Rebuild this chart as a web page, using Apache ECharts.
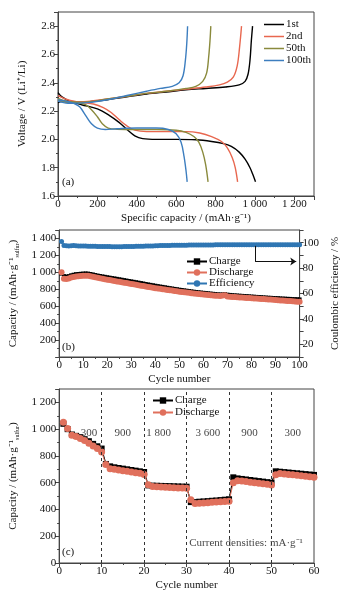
<!DOCTYPE html>
<html>
<head>
<meta charset="utf-8">
<script src="https://cdn.jsdelivr.net/npm/echarts@6/dist/echarts.min.js"></script>
<style>
  html, body { margin: 0; padding: 0; background: #fff; }
  #main { width: 349px; height: 592px; }
</style>
</head>
<body>
<div id="main"></div>
<script>
// (a) 充放电曲线 [容量 mAh/g, 电压 V]
var dis1st = [[0,2.33],[20,2.30],[60,2.27],[120,2.245],[200,2.215],[260,2.17],[310,2.12],[350,2.07],[390,2.025],[430,2.005],[500,2.0],[600,2.0],[700,1.997],[780,1.985],[840,1.97],[880,1.95],[920,1.91],[950,1.86],[975,1.80],[990,1.75],[1003,1.70]];
var chg1st = [[0,2.26],[30,2.27],[80,2.262],[150,2.265],[250,2.28],[350,2.30],[450,2.32],[550,2.335],[650,2.35],[750,2.36],[850,2.37],[920,2.385],[950,2.41],[965,2.46],[975,2.56],[982,2.7],[988,2.8]];
var dis2nd = [[0,2.31],[50,2.28],[120,2.26],[180,2.25],[230,2.225],[270,2.19],[310,2.14],[350,2.095],[390,2.065],[450,2.055],[550,2.055],[650,2.055],[720,2.045],[780,2.02],[830,1.985],[860,1.94],[885,1.87],[900,1.80],[912,1.70]];
var chg2nd = [[0,2.27],[50,2.265],[150,2.268],[250,2.285],[350,2.305],[450,2.325],[550,2.34],[650,2.355],[750,2.37],[820,2.385],[860,2.405],[890,2.44],[910,2.52],[922,2.65],[932,2.8]];
var dis50th = [[0,2.29],[40,2.27],[100,2.26],[140,2.245],[170,2.21],[200,2.16],[225,2.11],[255,2.08],[300,2.072],[400,2.07],[500,2.07],[600,2.065],[650,2.05],[690,2.02],[715,1.98],[735,1.91],[750,1.82],[762,1.70]];
var chg50th = [[0,2.28],[50,2.262],[150,2.265],[250,2.285],[350,2.305],[450,2.325],[550,2.34],[650,2.36],[700,2.375],[735,2.41],[755,2.47],[765,2.58],[772,2.7],[776,2.8]];
var dis100th = [[0,2.28],[40,2.27],[80,2.255],[110,2.23],[140,2.17],[170,2.11],[200,2.08],[240,2.07],[300,2.075],[400,2.08],[500,2.08],[560,2.07],[600,2.04],[625,1.98],[640,1.88],[650,1.78],[656,1.70]];
var chg100th = [[0,2.27],[50,2.255],[150,2.26],[250,2.28],[350,2.31],[450,2.34],[520,2.36],[580,2.375],[615,2.40],[635,2.45],[647,2.56],[654,2.68],[658,2.8]];

// (b) 循环性能 1-100
var cycChg = [985,955,950,955,965,972,978,980,983,985,987,985,980,975,968,962,957,952,947,942,
  937,932,928,923,918,913,908,903,898,893,888,883,878,873,868,862,857,852,847,842,
  837,832,828,823,818,813,809,804,800,795,791,787,783,779,775,771,768,764,761,758,
  755,752,749,746,743,740,738,740,742,736,733,730,728,726,724,722,720,718,716,714,
  712,710,708,706,704,702,700,699,697,695,694,692,690,689,687,686,684,683,682,680];
var cycDis = [1000,925,920,928,938,945,950,954,957,960,961,959,955,949,943,937,931,925,919,913,
  908,903,898,893,888,883,878,873,868,863,858,853,848,843,838,833,828,823,818,813,
  809,805,800,796,792,788,784,780,776,772,768,765,761,758,754,751,748,745,742,739,
  736,733,730,727,724,722,720,726,728,716,713,710,708,706,704,702,700,698,696,694,
  692,690,688,686,684,682,680,678,676,672,670,668,666,664,662,660,658,656,654,652];
var cycEff = [101,97.8,97.6,97.5,97.6,97.7,97.6,97.5,97.5,97.4,97.4,97.3,97.3,97.2,97.2,97.1,97.1,97.0,97.0,97.0,
  97.0,96.9,96.9,96.9,96.9,96.9,97.0,97.0,97.0,97.1,97.1,97.2,97.2,97.3,97.3,97.4,97.4,97.5,97.5,97.6,
  97.6,97.7,97.7,97.8,97.8,97.8,97.9,97.9,97.9,98.0,98.0,98.0,98.0,98.1,98.1,98.1,98.1,98.1,98.2,98.2,
  98.2,98.2,98.2,98.2,98.3,98.3,98.3,98.3,98.3,98.3,98.3,98.3,98.3,98.3,98.3,98.3,98.3,98.3,98.3,98.3,
  98.3,98.3,98.3,98.3,98.3,98.3,98.3,98.3,98.3,98.3,98.3,98.3,98.3,98.3,98.3,98.3,98.3,98.3,98.3,98.3];

// (c) 倍率性能 1-60
var rateChg = [1040,1000,960,950,940,925,910,890,872,855,
  740,722,715,710,705,700,695,690,685,680,
  580,578,577,576,575,574,573,572,571,570,
  455,455,458,460,462,465,467,470,473,476,
  640,632,628,624,620,616,612,608,604,600,
  685,682,679,676,673,670,667,664,661,658];
var rateDis = [1052,1005,955,945,930,915,895,875,855,830,
  735,705,700,695,690,685,680,675,670,662,
  585,572,570,568,566,565,563,561,560,558,
  472,445,447,449,451,453,455,457,459,461,
  600,615,612,608,604,600,596,592,588,582,
  660,668,665,662,659,656,652,648,645,641];
var rateLabels = ['300','900','1 800','3 600','900','300'];
var rateBounds = [10,20,30,40,50];

var fontFamily = '"Liberation Serif", "Times New Roman", serif';
var axisColor = '#444';

function pairs(arr){
  return arr.map(function(v, i){ return [i + 1, v]; });
}
function spaced(v){
  var s = String(v);
  if (Math.abs(v) >= 1000) s = s.slice(0, s.length - 3) + ' ' + s.slice(-3);
  return s;
}

function xAx(grid, min, max, interval, name){
  return {
    type: 'value', gridIndex: grid, min: min, max: max, interval: interval,
    name: name, nameLocation: 'middle', nameGap: 17,
    nameTextStyle: {fontFamily: fontFamily, fontSize: 11, color: '#111'},
    axisLine: {show: true, lineStyle: {color: axisColor}},
    axisTick: {show: true, length: 4, lineStyle: {color: axisColor}},
    minorTick: {show: true, splitNumber: 2, length: 2, lineStyle: {color: axisColor}},
    axisLabel: {fontFamily: fontFamily, fontSize: 11, color: '#111', margin: 3,
      formatter: function(v){ return (v % interval === 0 && v <= max - (max % interval)) ? spaced(v) : ''; }},
    splitLine: {show: false}
  };
}

var legendText = {fontFamily: fontFamily, fontSize: 11, color: '#111', lineHeight: 10, padding: [0,0,0,-3]};

var option = {
  animation: false,
  backgroundColor: '#fff',
  textStyle: {fontFamily: fontFamily},
  grid: [
    {left: 58, top: 12, width: 256, height: 184, show: true, borderColor: axisColor, borderWidth: 1},
    {left: 58, top: 230, width: 255, height: 127, show: true, borderColor: axisColor, borderWidth: 1},
    {left: 57, top: 389, width: 257, height: 175, show: true, borderColor: axisColor, borderWidth: 1}
  ],
  legend: [
    {data: ['1st','2nd','50th','100th'], orient: 'vertical', left: 264, top: 19, itemGap: 1, padding: 0,
     icon: 'rect', itemWidth: 20, itemHeight: 1.5, textStyle: legendText},
    {data: ['Charge','Discharge','Efficiency'], orient: 'vertical', left: 186, top: 256, itemGap: 0, padding: 0,
     itemWidth: 20, itemHeight: 8, textStyle: legendText},
    {data: ['Charge','Discharge'], orient: 'vertical', left: 152, top: 395, itemGap: 1, padding: 0,
     itemWidth: 20, itemHeight: 8, textStyle: legendText}
  ],
  xAxis: [
    xAx(0, 0, 1300, 200, 'Specific capacity / (mAh·g⁻¹)'),
    xAx(1, 0, 100, 10, 'Cycle number'),
    xAx(2, 0, 60, 10, 'Cycle number')
  ],
  yAxis: [
    {type: 'value', gridIndex: 0, min: 1.6, max: 2.9, interval: 0.2,
     name: 'Voltage / V (Li⁺/Li)', nameLocation: 'middle', nameGap: 30,
     nameTextStyle: {fontFamily: fontFamily, fontSize: 11, color: '#111'},
     axisLine: {show: true, lineStyle: {color: axisColor}},
     axisTick: {length: 4, lineStyle: {color: axisColor}},
     minorTick: {show: true, splitNumber: 2, length: 2, lineStyle: {color: axisColor}},
     axisLabel: {fontFamily: fontFamily, fontSize: 11, color: '#111', margin: 3,
       formatter: function(v){ return v > 2.85 ? '' : v.toFixed(1); }},
     splitLine: {show: false}},
    {type: 'value', gridIndex: 1, min: 0, max: 1500, interval: 200,
     name: '{n|Capacity / (mAh·g⁻¹}{s|sulfur}{n|)}', nameLocation: 'middle', nameGap: 34,
     nameTextStyle: {rich: {n: {fontFamily: fontFamily, fontSize: 11, color: '#111', lineHeight: 14},
                            s: {fontFamily: fontFamily, fontSize: 6, color: '#111', lineHeight: 14, verticalAlign: 'bottom'}}},
     axisLine: {show: true, lineStyle: {color: axisColor}},
     axisTick: {length: 4, lineStyle: {color: axisColor}},
     minorTick: {show: true, splitNumber: 2, length: 2, lineStyle: {color: axisColor}},
     axisLabel: {fontFamily: fontFamily, fontSize: 11, color: '#111', margin: 3,
       formatter: function(v){ return (v > 0 && v <= 1400 && v % 200 === 0) ? spaced(v) : ''; }},
     splitLine: {show: false}},
    {type: 'value', gridIndex: 1, position: 'right', min: 10, max: 110, interval: 10,
     name: 'Coulombic efficiency / %', nameLocation: 'middle', nameGap: 25, nameRotate: 90,
     nameTextStyle: {fontFamily: fontFamily, fontSize: 11, color: '#111'},
     axisLine: {show: true, lineStyle: {color: axisColor}},
     axisTick: {length: 4, lineStyle: {color: axisColor}},
     axisLabel: {fontFamily: fontFamily, fontSize: 11, color: '#111', margin: 3,
       formatter: function(v){ return (v >= 20 && v <= 100 && v % 20 === 0) ? String(v) : ''; }},
     splitLine: {show: false}},
    {type: 'value', gridIndex: 2, min: 0, max: 1300, interval: 200,
     name: '{n|Capacity / (mAh·g⁻¹}{s|sulfur}{n|)}', nameLocation: 'middle', nameGap: 34,
     nameTextStyle: {rich: {n: {fontFamily: fontFamily, fontSize: 11, color: '#111', lineHeight: 14},
                            s: {fontFamily: fontFamily, fontSize: 6, color: '#111', lineHeight: 14, verticalAlign: 'bottom'}}},
     axisLine: {show: true, lineStyle: {color: axisColor}},
     axisTick: {length: 4, lineStyle: {color: axisColor}},
     minorTick: {show: true, splitNumber: 2, length: 2, lineStyle: {color: axisColor}},
     axisLabel: {fontFamily: fontFamily, fontSize: 11, color: '#111', margin: 3,
       formatter: function(v){ return v <= 1200 ? spaced(v) : ''; }},
     splitLine: {show: false}}
  ],
  graphic: [
    {type: 'text', left: 62, top: 177, style: {text: '(a)', font: '11px ' + fontFamily, fill: '#111'}},
    {type: 'text', left: 62, top: 342, style: {text: '(b)', font: '11px ' + fontFamily, fill: '#111'}},
    {type: 'text', left: 62, top: 547, style: {text: '(c)', font: '11px ' + fontFamily, fill: '#111'}}
  ],
  series: []
};

// (a)
var curveDefs = [
  ['1st', '#000000', dis1st, chg1st],
  ['2nd', '#E8674F', dis2nd, chg2nd],
  ['50th', '#8A8A3C', dis50th, chg50th],
  ['100th', '#3D7EBF', dis100th, chg100th]
];
curveDefs.forEach(function(c){
  [c[2], c[3]].forEach(function(d){
    option.series.push({
      name: c[0], type: 'line', xAxisIndex: 0, yAxisIndex: 0, data: d,
      symbol: 'none', smooth: 0.35, color: c[1], lineStyle: {width: 1.4, color: c[1]}
    });
  });
});

// (b)
option.series.push({
  name: 'Charge', type: 'line', xAxisIndex: 1, yAxisIndex: 1, data: pairs(cycChg),
  symbol: 'rect', symbolSize: 4, color: '#000', lineStyle: {width: 1.2, color: '#000'}
});
option.series.push({
  name: 'Discharge', type: 'line', xAxisIndex: 1, yAxisIndex: 1, data: pairs(cycDis),
  symbol: 'circle', symbolSize: 6, color: '#E0705C', lineStyle: {width: 1, color: '#E0705C'}
});
option.series.push({
  name: 'Efficiency', type: 'line', xAxisIndex: 1, yAxisIndex: 2, data: pairs(cycEff),
  symbol: 'circle', symbolSize: 5, color: '#2F76B3', lineStyle: {width: 1, color: '#2F76B3'},
  markLine: {
    silent: true, symbol: ['none', 'arrow'], symbolSize: 6,
    label: {show: false},
    lineStyle: {color: '#111', width: 1, type: 'solid'},
    data: [
      [{coord: [81.5, 97.5], symbol: 'none'}, {coord: [81.5, 85.2], symbol: 'none'}],
      [{coord: [81.5, 85.2], symbol: 'none'}, {coord: [98.6, 85.2], symbol: 'arrow'}]
    ]
  }
});

// (c)
option.series.push({
  name: 'Charge', type: 'line', xAxisIndex: 2, yAxisIndex: 3, data: pairs(rateChg),
  symbol: 'rect', symbolSize: 6, color: '#000', lineStyle: {width: 1.2, color: '#000'},
  markLine: {
    silent: true, symbol: ['none', 'none'], label: {show: false},
    lineStyle: {color: '#333', width: 1, type: [3, 3]},
    data: rateBounds.map(function(b){ return {xAxis: b}; })
  }
});
option.series.push({
  name: 'Discharge', type: 'line', xAxisIndex: 2, yAxisIndex: 3, data: pairs(rateDis),
  symbol: 'circle', symbolSize: 7, color: '#E0705C', lineStyle: {width: 1, color: '#E0705C'}
});
var rateLabelCycle = [7, 15, 23.4, 35, 44.8, 55];
option.series.push({
  name: 'rates', type: 'scatter', xAxisIndex: 2, yAxisIndex: 3, symbolSize: 0, silent: true,
  label: {show: true, position: 'inside', formatter: '{b}', fontFamily: fontFamily, fontSize: 11, color: '#111'},
  data: rateLabels.map(function(t, i){ return {name: t, value: [rateLabelCycle[i], 970]}; })
    .concat([{name: 'Current densities: mA·g⁻¹', value: [44, 148]}])
});

var chart = echarts.init(document.getElementById('main'));
chart.setOption(option);
</script>
</body>
</html>
